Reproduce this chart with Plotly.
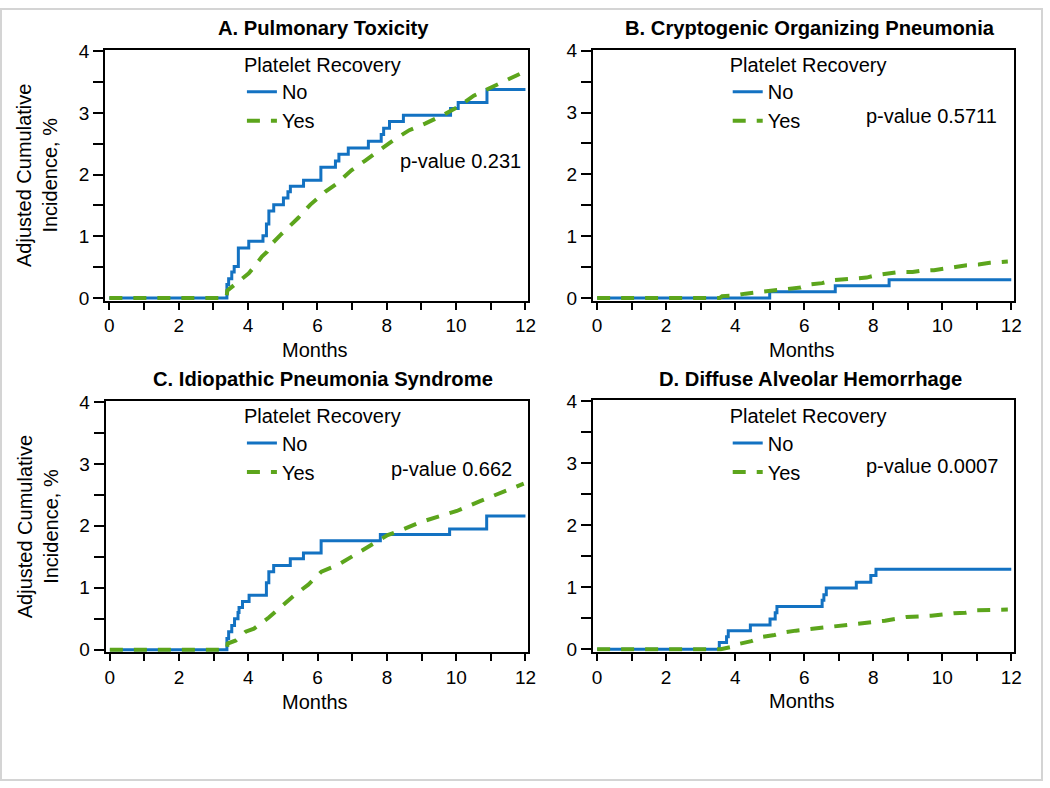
import plotly.graph_objects as go

# ---------------- data ----------------
MONTH_TICKS = [0, 2, 4, 6, 8, 10, 12]
Y_TICKS = [0, 1, 2, 3, 4]

PANEL_TITLES = ["A. Pulmonary Toxicity", "B. Cryptogenic Organizing Pneumonia",
                "C. Idiopathic Pneumonia Syndrome", "D. Diffuse Alveolar Hemorrhage"]
P_VALUES = ["p-value 0.231", "p-value 0.5711", "p-value 0.662", "p-value 0.0007"]
GROUPS = ["No", "Yes"]

# Panel A - Pulmonary toxicity
A_NO_T = [0, 3.39, 3.44, 3.53, 3.60, 3.72, 4.02, 4.43, 4.53, 4.60, 4.74, 5.02, 5.15, 5.22, 5.60,
          6.10, 6.52, 6.62, 6.89, 7.47, 7.84, 7.91, 8.08, 8.48, 9.84, 10.06, 10.89, 12.0]
A_NO_V = [0, 0.22, 0.31, 0.42, 0.51, 0.81, 0.92, 1.01, 1.20, 1.41, 1.51, 1.62, 1.72, 1.81, 1.91,
          2.12, 2.22, 2.33, 2.43, 2.54, 2.65, 2.75, 2.86, 2.96, 3.07, 3.17, 3.38, 3.38]
A_YES_T = [0, 3.38, 3.40, 3.59, 3.78, 4.02, 4.21, 4.40, 4.55, 4.69, 4.93, 5.45, 5.79, 6.22, 6.55,
           6.98, 7.36, 7.74, 8.22, 8.65, 9.12, 9.60, 10.03, 10.51, 10.98, 11.46, 11.98]
A_YES_V = [0, 0, 0.12, 0.20, 0.30, 0.40, 0.53, 0.67, 0.75, 0.88, 1.02, 1.30, 1.51, 1.72, 1.85,
           2.07, 2.22, 2.38, 2.57, 2.72, 2.83, 2.96, 3.09, 3.28, 3.41, 3.54, 3.67]

# Panel B - Cryptogenic organizing pneumonia
B_NO_T = [0, 5.00, 6.90, 8.46, 12.0]
B_NO_V = [0, 0.10, 0.196, 0.296, 0.296]
B_YES_T = [0, 3.55, 3.62, 4.00, 4.30, 4.62, 5.00, 5.30, 5.52, 5.90, 6.19, 6.52, 6.86, 7.14, 7.43,
           7.81, 8.10, 8.43, 8.76, 9.14, 9.38, 9.76, 10.05, 10.38, 10.71, 11.05, 11.38, 11.90]
B_YES_V = [0, 0, 0.03, 0.04, 0.07, 0.09, 0.12, 0.13, 0.15, 0.17, 0.22, 0.24, 0.29, 0.30, 0.32,
           0.33, 0.37, 0.40, 0.42, 0.42, 0.44, 0.45, 0.48, 0.50, 0.53, 0.54, 0.57, 0.59]

# Panel C - Idiopathic pneumonia syndrome
C_NO_T = [0, 3.38, 3.43, 3.52, 3.60, 3.70, 3.73, 3.83, 4.02, 4.52, 4.59, 4.73, 5.21, 5.59, 6.10,
          7.81, 9.81, 10.88, 12.0]
C_NO_V = [0, 0.18, 0.29, 0.39, 0.50, 0.60, 0.68, 0.78, 0.88, 1.08, 1.26, 1.36, 1.47, 1.56, 1.76,
          1.86, 1.95, 2.16, 2.16]
C_YES_T = [0, 3.38, 3.40, 3.64, 3.92, 4.16, 4.59, 4.92, 5.35, 5.73, 6.11, 6.59, 7.07, 7.54, 8.02,
           8.50, 8.97, 9.54, 10.02, 10.69, 11.16, 11.78, 11.95]
C_YES_V = [0, 0, 0.10, 0.15, 0.29, 0.34, 0.52, 0.68, 0.89, 1.05, 1.26, 1.37, 1.53, 1.69, 1.85,
           1.95, 2.06, 2.16, 2.24, 2.40, 2.51, 2.64, 2.68]

# Panel D - Diffuse alveolar hemorrhage
D_NO_T = [0, 3.54, 3.75, 3.80, 4.44, 5.01, 5.16, 5.21, 6.52, 6.57, 6.64, 7.51, 7.93, 8.08, 12.0]
D_NO_V = [0, 0.11, 0.20, 0.30, 0.39, 0.49, 0.59, 0.69, 0.79, 0.88, 0.99, 1.08, 1.19, 1.29, 1.29]
D_YES_T = [0, 3.58, 3.99, 4.14, 4.47, 4.80, 5.14, 5.38, 5.76, 6.38, 7.05, 7.72, 8.34, 8.96, 9.68,
           10.34, 10.68, 11.01, 11.68, 11.90]
D_YES_V = [0, 0, 0.05, 0.09, 0.13, 0.20, 0.23, 0.27, 0.30, 0.34, 0.38, 0.43, 0.46, 0.52, 0.54,
           0.58, 0.59, 0.63, 0.63, 0.64]

NO_SERIES = [(A_NO_T, A_NO_V), (B_NO_T, B_NO_V), (C_NO_T, C_NO_V), (D_NO_T, D_NO_V)]
YES_SERIES = [(A_YES_T, A_YES_V), (B_YES_T, B_YES_V), (C_YES_T, C_YES_V), (D_YES_T, D_YES_V)]

# ---------------- styling / layout ----------------
W, H = 1050, 788
BLUE = "#1372c2"
GREEN = "#5ca51c"
FONT = "Liberation Sans, Arial, sans-serif"


def fx(px):
    return px / W


def fy(py):
    return 1 - py / H


# plot frames in pixels: (left, right, top, bottom)
FRAMES = [(105, 532, 42, 298), (597, 1022, 41.5, 298),
          (105.5, 532, 400.5, 657.5), (597, 1022, 400, 657)]
TITLE_POS = [(325, 19), (816, 19), (325, 378), (816, 378)]
PVAL_POS = [(527, 155), (1007, 109), (517, 470), (1008, 467)]
LEGEND_POS = [(243, 38), (733, 38), (243, 397), (733, 397)]

fig = go.Figure()
annotations = []
legend_names = ["legend", "legend2", "legend3", "legend4"]

for i in range(4):
    ax = "" if i == 0 else str(i + 1)
    lg = legend_names[i]
    (nt, nv), (yt, yv) = NO_SERIES[i], YES_SERIES[i]
    fig.add_trace(go.Scatter(x=nt, y=nv, mode="lines", name=GROUPS[0], legend=lg,
                             line=dict(color=BLUE, width=3, shape="hv"),
                             xaxis="x" + ax, yaxis="y" + ax))
    fig.add_trace(go.Scatter(x=yt, y=yv, mode="lines", name=GROUPS[1], legend=lg,
                             line=dict(color=GREEN, width=4, dash="13px,11px"),
                             xaxis="x" + ax, yaxis="y" + ax))
    l, r, t, b = FRAMES[i]
    axis_common = dict(showline=True, linecolor="black", linewidth=2, mirror=True,
                       ticks="outside", tickcolor="black", tickwidth=1.5,
                       showgrid=False, zeroline=False,
                       tickfont=dict(family=FONT, size=19, color="black"))
    fig.layout["xaxis" + ax] = dict(axis_common, domain=[fx(l), fx(r)], range=[-0.123, 12.086],
                                    tickvals=MONTH_TICKS, ticklen=7,
                                    minor=dict(dtick=1, tick0=0, ticks="outside", ticklen=7,
                                               tickcolor="black", tickwidth=1.5),
                                    anchor="y" + ax)
    fig.layout["yaxis" + ax] = dict(axis_common, domain=[fy(b), fy(t)], range=[-0.042, 4.018],
                                    tickvals=Y_TICKS, ticklen=10,
                                    minor=dict(dtick=0.5, tick0=0, ticks="outside", ticklen=10,
                                               tickcolor="black", tickwidth=1.5),
                                    anchor="x" + ax)
    lx, ly = LEGEND_POS[i]
    fig.layout[lg] = dict(x=fx(lx), y=fy(ly), xanchor="left", yanchor="top",
                          xref="paper", yref="paper",
                          bgcolor="rgba(0,0,0,0)", borderwidth=0,
                          title=dict(text="Platelet Recovery", side="top",
                                     font=dict(family=FONT, size=20, color="black")),
                          font=dict(family=FONT, size=20, color="black"),
                          tracegroupgap=0)
    tx, ty = TITLE_POS[i]
    annotations.append(dict(text="<b>" + PANEL_TITLES[i] + "</b>", x=fx(tx), y=fy(ty),
                            xref="paper", yref="paper", showarrow=False,
                            xanchor="center", yanchor="middle",
                            font=dict(family=FONT, size=20.2, color="black")))
    px_, py_ = PVAL_POS[i]
    annotations.append(dict(text=P_VALUES[i], x=fx(px_), y=fy(py_),
                            xref="paper", yref="paper", showarrow=False,
                            xanchor="right", yanchor="middle",
                            font=dict(family=FONT, size=20, color="black")))
    # x-axis title
    annotations.append(dict(text="Months", x=fx((l + r) / 2 - 2), y=fy(b + 50.5),
                            xref="paper", yref="paper", showarrow=False,
                            xanchor="center", yanchor="middle",
                            font=dict(family=FONT, size=20, color="black")))
    if i in (0, 2):
        annotations.append(dict(text="Adjusted Cumulative<br>Incidence, %", x=fx(37),
                                y=fy((t + b) / 2), xref="paper", yref="paper",
                                showarrow=False, textangle=-90,
                                xanchor="center", yanchor="middle",
                                font=dict(family=FONT, size=20, color="black")))

fig.update_layout(
    width=W, height=H,
    margin=dict(l=0, r=0, t=0, b=0),
    paper_bgcolor="white", plot_bgcolor="white",
    annotations=annotations,
    showlegend=True,
    shapes=[dict(type="rect", xref="paper", yref="paper", x0=0, y0=0, x1=1, y1=1,
                 line=dict(color="#d4d4d4", width=2))],
)

# pin the figure to the top-left corner of the page (no default body margin)
PIN_JS = ("document.body.style.margin='0';document.body.style.padding='0';"
          "document.documentElement.style.overflow='hidden';"
          "var gd=document.getElementById('{plot_id}');"
          "gd.style.position='fixed';gd.style.left='0px';gd.style.top='0px';")

fig.write_html("out.html", post_script=PIN_JS, config={"displayModeBar": False})
